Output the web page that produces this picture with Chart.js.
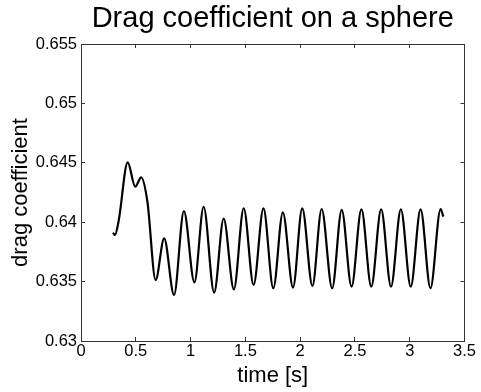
<!DOCTYPE html>
<html>
<head>
<meta charset="utf-8">
<script src="https://cdn.jsdelivr.net/npm/chart.js@4/dist/chart.umd.min.js"></script>
<style>
  html, body { margin: 0; padding: 0; background: #ffffff; }
  canvas { display: block; }
</style>
</head>
<body>
<canvas id="c" width="481" height="392"></canvas>
<script>
// ---- data ----
const timeValues = [0.291, 0.31, 0.345, 0.426, 0.495, 0.549, 0.606, 0.681, 0.759, 0.849, 0.939, 1.035, 1.119, 1.215, 1.302, 1.395, 1.485, 1.575, 1.665, 1.755, 1.842, 1.935, 2.019, 2.112, 2.196, 2.292, 2.379, 2.469, 2.559, 2.649, 2.739, 2.829, 2.919, 3.009, 3.099, 3.189, 3.282, 3.306];
const dragValues = [0.63912, 0.63892, 0.64019, 0.64504, 0.64299, 0.64378, 0.64173, 0.63513, 0.63864, 0.63387, 0.64094, 0.63494, 0.6413, 0.63407, 0.6403, 0.63435, 0.64117, 0.63472, 0.64117, 0.63444, 0.64083, 0.6345, 0.64117, 0.63463, 0.64111, 0.63444, 0.64103, 0.63458, 0.64108, 0.63458, 0.64108, 0.63458, 0.64108, 0.63458, 0.64108, 0.63444, 0.64111, 0.64047];
const xTickValues = [0, 0.5, 1, 1.5, 2, 2.5, 3, 3.5];
const yTickValues = [0.63, 0.635, 0.64, 0.645, 0.65, 0.655];
const titleText = 'Drag coefficient on a sphere';
const xLabel = 'time [s]';
const yLabel = 'drag coefficient';

const FONT = "'Liberation Sans', Arial, Helvetica, sans-serif";
const FRAME = '#333333';

const points = timeValues.map((t, i) => ({ x: t, y: dragValues[i] }));
const fmt = v => String(+Number(v).toFixed(3));

function frameGrid() {
  return { drawOnChartArea: false, drawTicks: true, tickLength: -4, color: FRAME, lineWidth: 1 };
}

new Chart(document.getElementById('c'), {
  type: 'line',
  data: {
    datasets: [{
      data: points,
      borderColor: '#000000',
      borderWidth: 2.2,
      pointRadius: 0,
      fill: false,
      cubicInterpolationMode: 'monotone',
      xAxisID: 'x',
      yAxisID: 'y'
    }]
  },
  options: {
    responsive: false,
    devicePixelRatio: 1,
    animation: false,
    layout: { padding: 0 },
    plugins: { legend: { display: false }, tooltip: { enabled: false }, title: { display: false } },
    scales: {
      x: {
        type: 'linear', position: 'bottom', min: 0, max: 3.5,
        afterBuildTicks: s => { s.ticks = xTickValues.map(v => ({ value: v })); },
        ticks: { font: { family: FONT, size: 16.5 }, color: '#000', padding: 5, maxRotation: 0, autoSkip: false, callback: v => fmt(v) },
        grid: frameGrid(),
        border: { color: FRAME, width: 1 },
        title: { display: true, text: xLabel, color: '#000', font: { family: FONT, size: 22 }, padding: { top: 0, bottom: 3 } },
        afterFit: s => { s.height = 51; }
      },
      x2: {
        type: 'linear', position: 'top', min: 0, max: 3.5,
        afterBuildTicks: s => { s.ticks = xTickValues.map(v => ({ value: v })); },
        ticks: { display: false },
        grid: frameGrid(),
        border: { color: FRAME, width: 1 },
        title: { display: true, text: titleText, color: '#000', font: { family: FONT, size: 29 }, padding: { top: 2, bottom: 0 } },
        afterFit: s => { s.height = 44; }
      },
      y: {
        type: 'linear', position: 'left', min: 0.63, max: 0.655,
        afterBuildTicks: s => { s.ticks = yTickValues.map(v => ({ value: v })); },
        ticks: { font: { family: FONT, size: 16.5 }, color: '#000', padding: 8, autoSkip: false, callback: v => fmt(v) },
        grid: frameGrid(),
        border: { color: FRAME, width: 1 },
        title: { display: true, text: yLabel, color: '#000', font: { family: FONT, size: 22 }, padding: { top: 8, bottom: 0 } },
        afterFit: s => { s.width = 81; }
      },
      y2: {
        type: 'linear', position: 'right', min: 0.63, max: 0.655,
        afterBuildTicks: s => { s.ticks = yTickValues.map(v => ({ value: v })); },
        ticks: { display: false },
        grid: frameGrid(),
        border: { color: FRAME, width: 1 },
        afterFit: s => { s.width = 11; }
      }
    }
  }
});
</script>
</body>
</html>
